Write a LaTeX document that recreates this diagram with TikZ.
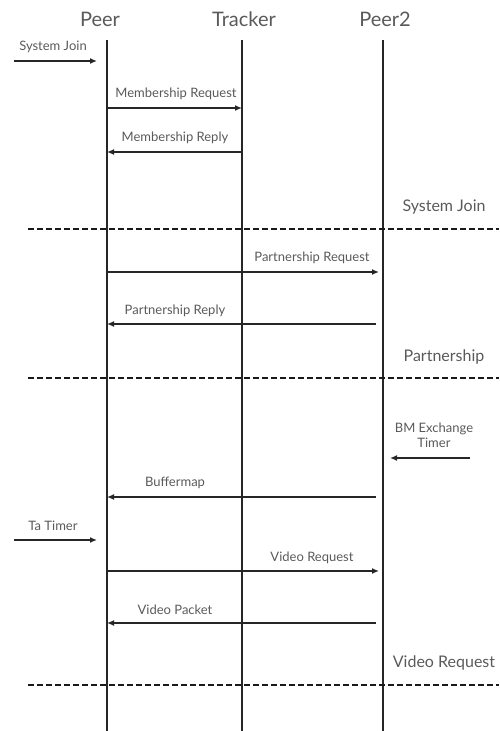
\documentclass[tikz,border=0pt]{standalone}
\usepackage{fontspec}
\setmainfont{Lato}
\usetikzlibrary{arrows.meta}
\definecolor{txt}{HTML}{5a5a5a}
\begin{document}
\begin{tikzpicture}[x=1pt,y=-1pt,
  head/.style={font=\fontsize{20}{22}\selectfont, text=txt, inner sep=0pt},
  lbl/.style={font=\fontsize{13}{15}\selectfont, text=txt, inner sep=0pt},
  sect/.style={font=\fontsize{16}{18}\selectfont, text=txt, inner sep=0pt},
  life/.style={line width=1.6pt, draw=black!85},
  msg/.style={line width=1.4pt, draw=black!85, -{Latex[length=7pt,width=6pt]}},
  sep/.style={line width=2.6pt, draw=black!90, dash pattern=on 6pt off 3pt}]
\useasboundingbox (0,0) rectangle (499,731);
% headers
\node[head] (peer) at (100,19) {Peer};
\node[head] (tracker) at (244,19) {Tracker};
\node[head] (peer2) at (385,19) {Peer2};
% lifeline ends
\coordinate (pt) at (107,40); \coordinate (pb) at (107,731);
\coordinate (tt) at (242,40); \coordinate (tb) at (242,731);
\coordinate (qt) at (383,40); \coordinate (qb) at (383,731);
\draw[life] (pt) -- (pb);
\draw[life] (tt) -- (tb);
\draw[life] (qt) -- (qb);
% System Join
\coordinate (sj0) at (14,61); \coordinate (sj1) at (97,61);
\node[lbl] (sjl) at (53,47) {System Join};
\draw[msg] (sj0) -- (sj1);
% Membership request / reply
\coordinate (mr0) at (108,108); \coordinate (mr1) at (242,108);
\node[lbl] (mrl) at (176,94) {Membership Request};
\draw[msg] (mr0) -- (mr1);
\coordinate (mp0) at (242,152); \coordinate (mp1) at (107,152);
\node[lbl] (mpl) at (175,138) {Membership Reply};
\draw[msg] (mp0) -- (mp1);
% separator 1
\node[sect] (s1) at (444,207) {System Join};
\coordinate (d1a) at (28,229); \coordinate (d1b) at (499,229);
\draw[sep] (d1a) -- (d1b);
% Partnership
\coordinate (pr0) at (108,272); \coordinate (pr1) at (379,272);
\node[lbl] (prl) at (312,258) {Partnership Request};
\draw[msg] (pr0) -- (pr1);
\coordinate (pp0) at (376,324); \coordinate (pp1) at (107,324);
\node[lbl] (ppl) at (175,311) {Partnership Reply};
\draw[msg] (pp0) -- (pp1);
% separator 2
\node[sect] (s2) at (444,357) {Partnership};
\coordinate (d2a) at (28,378); \coordinate (d2b) at (499,378);
\draw[sep] (d2a) -- (d2b);
% BM exchange timer
\node[lbl, align=center] (bml) at (434,435) {BM Exchange\\Timer};
\coordinate (bm0) at (470,458); \coordinate (bm1) at (390,458);
\draw[msg] (bm0) -- (bm1);
% Buffermap
\coordinate (bf0) at (376,497); \coordinate (bf1) at (107,497);
\node[lbl] (bfl) at (175,483) {Buffermap};
\draw[msg] (bf0) -- (bf1);
% Ta Timer
\coordinate (ta0) at (14,540); \coordinate (ta1) at (97,540);
\node[lbl] (tal) at (53,526) {Ta Timer};
\draw[msg] (ta0) -- (ta1);
% Video request / packet
\coordinate (vr0) at (108,571); \coordinate (vr1) at (379,571);
\node[lbl] (vrl) at (312,558) {Video Request};
\draw[msg] (vr0) -- (vr1);
\coordinate (vp0) at (376,623); \coordinate (vp1) at (107,623);
\node[lbl] (vpl) at (175,610) {Video Packet};
\draw[msg] (vp0) -- (vp1);
% separator 3
\node[sect] (s3) at (444,663) {Video Request};
\coordinate (d3a) at (28,685); \coordinate (d3b) at (499,685);
\draw[sep] (d3a) -- (d3b);
\end{tikzpicture}
\end{document}
